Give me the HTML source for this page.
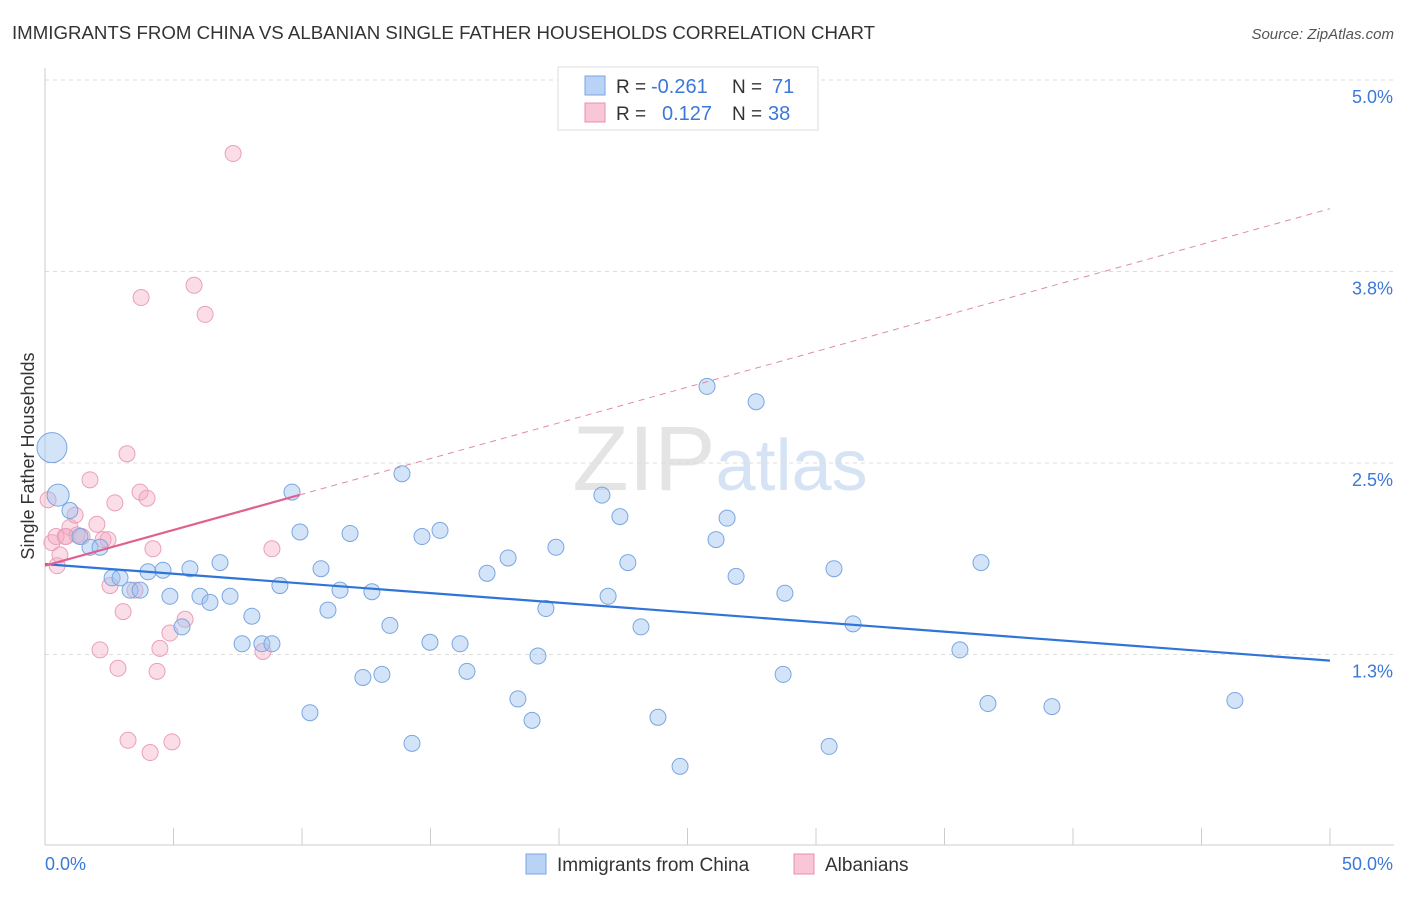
<!DOCTYPE html>
<html><head><meta charset="utf-8"><style>
body{margin:0;background:#fff;font-family:"Liberation Sans",sans-serif;}
svg text{font-family:"Liberation Sans",sans-serif;}
</style></head><body>
<svg id="chart" width="1406" height="892" xmlns="http://www.w3.org/2000/svg">
<text x="12" y="39" font-size="18" fill="#333" textLength="863" lengthAdjust="spacingAndGlyphs">IMMIGRANTS FROM CHINA VS ALBANIAN SINGLE FATHER HOUSEHOLDS CORRELATION CHART</text>
<text x="1394" y="39" font-size="15" fill="#555" text-anchor="end" font-style="italic">Source: ZipAtlas.com</text>
<text x="720" y="490" font-size="92" text-anchor="middle" fill="#e4e4e4" font-family="Liberation Serif">ZIP<tspan fill="#d5e3f5" font-family="Liberation Sans" font-size="72">atlas</tspan></text>
<g id="grid"></g><g id="axes"></g><g id="marks"></g>
<text transform="translate(34,456) rotate(-90)" font-size="18" fill="#333" text-anchor="middle">Single Father Households</text>
<g>
<rect x="558" y="67" width="260" height="63" fill="#fff" stroke="#ddd"/>
<rect x="585" y="76" width="20" height="19" fill="#b8d3f5" stroke="#7aa6e0"/>
<rect x="585" y="103" width="20" height="19" fill="#f8c6d6" stroke="#e890ae"/>
<text x="616" y="93" font-size="19" fill="#333">R =</text>
<text x="651" y="93" font-size="20" fill="#3b78d8">-0.261</text>
<text x="732" y="93" font-size="19" fill="#333">N =</text>
<text x="772" y="93" font-size="20" fill="#3b78d8">71</text>
<text x="616" y="120" font-size="19" fill="#333">R =</text>
<text x="662" y="120" font-size="20" fill="#3b78d8">0.127</text>
<text x="732" y="120" font-size="19" fill="#333">N =</text>
<text x="768" y="120" font-size="20" fill="#3b78d8">38</text>
</g>
<g>
<rect x="526" y="854" width="20" height="20" fill="#b8d3f5" stroke="#7aa6e0"/>
<text x="557" y="871" font-size="19" fill="#333">Immigrants from China</text>
<rect x="794" y="854" width="20" height="20" fill="#f8c6d6" stroke="#e890ae"/>
<text x="825" y="871" font-size="19" fill="#333">Albanians</text>
</g>
</svg>
<script>
const yTicks=[5.0,3.75,2.5,1.25];
const yTickLabels=["5.0%","3.8%","2.5%","1.3%"];
const xTicks=[0,5,10,15,20,25,30,35,40,45,50];
const chinaX=[0.27,0.51,0.97,1.36,1.75,2.14,2.61,2.92,3.31,3.70,4.01,4.59,4.86,5.33,5.64,6.03,6.42,6.81,7.20,7.67,8.05,8.44,8.83,9.14,9.61,9.92,10.31,10.74,11.01,11.48,11.87,12.37,12.72,13.11,13.42,13.89,14.28,14.67,14.98,15.37,16.15,16.42,17.20,18.02,18.40,18.95,19.18,19.49,19.88,21.67,21.91,22.37,22.68,23.19,23.85,24.71,25.76,26.11,26.54,26.89,27.67,28.72,28.79,30.51,30.70,31.44,35.60,36.42,36.69,39.18,46.30];
const chinaY=[2.60,2.29,2.19,2.02,1.95,1.95,1.75,1.75,1.67,1.67,1.79,1.80,1.63,1.43,1.81,1.63,1.59,1.85,1.63,1.32,1.50,1.32,1.32,1.70,2.31,2.05,0.87,1.81,1.54,1.67,2.04,1.10,1.66,1.12,1.44,2.43,0.67,2.02,1.33,2.06,1.32,1.14,1.78,1.88,0.96,0.82,1.24,1.55,1.95,2.29,1.63,2.15,1.85,1.43,0.84,0.52,3.00,2.00,2.14,1.76,2.90,1.12,1.65,0.65,1.81,1.45,1.28,1.85,0.93,0.91,0.95];
const chinaR=[15,11];
const albX=[0.12,0.27,0.47,0.58,0.78,0.97,1.17,1.44,1.75,2.02,2.14,2.26,2.53,2.72,2.84,3.04,3.19,3.23,3.50,3.70,3.74,3.97,4.09,4.20,4.36,4.47,4.86,4.94,5.45,5.80,6.23,7.32,8.48,8.83,0.43,2.45,0.82,1.25];
const albY=[2.26,1.98,1.83,1.90,2.02,2.08,2.16,2.02,2.39,2.10,1.28,2.00,1.70,2.24,1.16,1.53,2.56,0.69,1.67,2.31,3.58,2.27,0.61,1.94,1.14,1.29,1.39,0.68,1.48,3.66,3.47,4.52,1.27,1.94,2.02,2.00,2.02,2.03];
const chinaTrend=[1.84,1.21];
const albTrend=[1.83,4.16];
const albSolidEnd=9.9;
const NS="http://www.w3.org/2000/svg";
const X=v=>45+v/50*1285;
const Y=v=>80+(5-v)*153.2;
function mk(tag,attrs,parent){const e=document.createElementNS(NS,tag);for(const k in attrs)e.setAttribute(k,attrs[k]);document.getElementById(parent).appendChild(e);return e;}
yTicks.forEach((t,i)=>{
 const l=mk('line',{x1:45,x2:1394,y1:Y(t),y2:Y(t),stroke:'#ddd','stroke-dasharray':'4,4'},'grid');
 
 
 const tx=mk('text',{x:1393,y:Y(t)+23,'font-size':18,fill:'#3b78d8','text-anchor':'end'},'axes');
 tx.textContent=yTickLabels[i];
 
 
});
const ya=mk('line',{x1:45,x2:45,y1:68,y2:845,stroke:'#ccc'},'axes');


const xa=mk('line',{x1:45,x2:1394,y1:845,y2:845,stroke:'#ccc'},'axes');


xTicks.forEach(t=>{
 const l=mk('line',{x1:X(t),x2:X(t),y1:828,y2:845,stroke:'#ccc'},'axes');
 
 
});
[[0,"0.0%",'start',45],[50,"50.0%",'end',1393]].forEach(a=>{
 const tx=mk('text',{x:a[3],y:870,'font-size':18,fill:'#3b78d8','text-anchor':a[2]},'axes');
 tx.textContent=a[1];
 
 
});
albX.forEach((v,i)=>{
 const c=mk('circle',{cx:X(v),cy:Y(albY[i]),r:8,fill:'rgba(245,170,195,0.4)',stroke:'#eaa0b8','stroke-width':1},'marks');
 
 
});
chinaX.forEach((v,i)=>{
 const c=mk('circle',{cx:X(v),cy:Y(chinaY[i]),r:chinaR[i]||8,fill:'rgba(160,195,240,0.45)',stroke:'#7aa6e0','stroke-width':1},'marks');
 
 
});
const bl=mk('line',{x1:X(0),y1:Y(chinaTrend[0]),x2:X(50),y2:Y(chinaTrend[1]),stroke:'#2f74d8','stroke-width':2.2},'marks');


const pe=albTrend[0]+(albTrend[1]-albTrend[0])*albSolidEnd/50;
const pd=mk('line',{x1:X(albSolidEnd),y1:Y(pe),x2:X(50),y2:Y(albTrend[1]),stroke:'#e08aa8','stroke-width':1,'stroke-dasharray':'6,5'},'marks');


const pl=mk('line',{x1:X(0),y1:Y(albTrend[0]),x2:X(albSolidEnd),y2:Y(pe),stroke:'#e06090','stroke-width':2.2},'marks');


</script>
</body></html>
